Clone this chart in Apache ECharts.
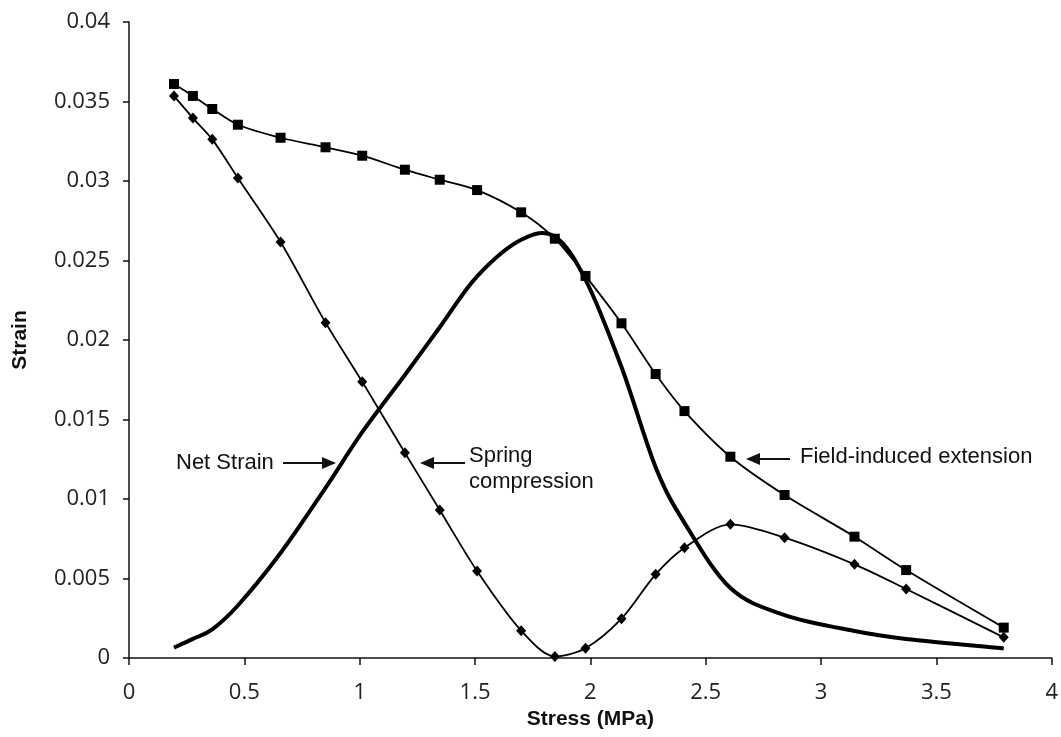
<!DOCTYPE html>
<html>
<head>
<meta charset="utf-8">
<script src="https://cdn.jsdelivr.net/npm/echarts@6/dist/echarts.min.js"></script>
<style>
  html, body { margin: 0; padding: 0; background: #fff; }
  #chart { width: 1061px; height: 737px; }
</style>
</head>
<body>
<div id="chart"></div>
<script>
// Applied stress (MPa) at each measurement
const stress = [0.195, 0.277, 0.361, 0.472, 0.657, 0.852, 1.011, 1.196, 1.347, 1.509,
                1.700, 1.846, 1.979, 2.135, 2.283, 2.408, 2.607, 2.842, 3.145, 3.369, 3.792];

// Field-induced extension (square markers)
const fieldExtension = [0.0361, 0.03535, 0.03453, 0.03354, 0.03272, 0.03212, 0.03159, 0.03071, 0.03008, 0.02943,
                        0.02803, 0.02637, 0.02403, 0.02105, 0.01786, 0.01553, 0.01266, 0.01025, 0.00763, 0.00553, 0.00191];

// Spring compression (diamond markers)
const springCompression = [0.03535, 0.03396, 0.03262, 0.03019, 0.02616, 0.02109, 0.01738, 0.01291, 0.00931, 0.00547,
                           0.00172, 0.0001, 0.00061, 0.00247, 0.00526, 0.00694, 0.00841, 0.00757, 0.00589, 0.00434, 0.0013];

// Net strain (heavy line, no markers)
const netStrain = [0.00065, 0.0012, 0.0018, 0.0033, 0.0066, 0.0107, 0.0142, 0.0178, 0.0208, 0.0240,
                   0.0263, 0.0265, 0.0238, 0.0183, 0.0120, 0.0085, 0.0044, 0.0027, 0.0017, 0.0012, 0.0006];

const xTicks = { min: 0, max: 4, interval: 0.5 };
const yTicks = { min: 0, max: 0.04, interval: 0.005 };

const pairs = (xs, ys) => xs.map((x, i) => [x, ys[i]]);

const chart = echarts.init(document.getElementById('chart'), null, { renderer: 'canvas' });

const tickFont = { fontFamily: 'Open Sans', fontSize: 22, color: '#222' };
const titleFont = { fontFamily: 'Liberation Sans', fontSize: 21, fontWeight: 'bold', color: '#111' };
const noteFont = 'Liberation Sans';

function arrow(x1, x2, y) {
  // horizontal arrow from x1 to x2 (head at x2)
  const dir = x2 > x1 ? 1 : -1;
  const head = 14, half = 6;
  return [
    { type: 'line', shape: { x1: x1, y1: y, x2: x2 - dir * head * 0.6, y2: y },
      style: { stroke: '#111', lineWidth: 2 } },
    { type: 'polygon', shape: { points: [[x2, y], [x2 - dir * head, y - half], [x2 - dir * head, y + half]] },
      style: { fill: '#111' } }
  ];
}

// Catmull-Rom spline through the pixel positions of a series (drawn once, on the first item)
function splineRenderer(xs, ys, width) {
  return function (params, api) {
    if (params.dataIndex !== 0) return null;
    const p = xs.map((x, i) => api.coord([x, ys[i]]));
    let d = 'M' + p[0][0] + ' ' + p[0][1];
    for (let i = 0; i < p.length - 1; i++) {
      const p0 = p[Math.max(i - 1, 0)], p1 = p[i], p2 = p[i + 1], p3 = p[Math.min(i + 2, p.length - 1)];
      const c1x = p1[0] + (p2[0] - p0[0]) / 6, c1y = p1[1] + (p2[1] - p0[1]) / 6;
      const c2x = p2[0] - (p3[0] - p1[0]) / 6, c2y = p2[1] - (p3[1] - p1[1]) / 6;
      d += ' C' + c1x + ' ' + c1y + ' ' + c2x + ' ' + c2y + ' ' + p2[0] + ' ' + p2[1];
    }
    return {
      type: 'path',
      shape: { pathData: d },
      style: { stroke: '#000', lineWidth: width, fill: null, lineJoin: 'round', lineCap: 'butt' }
    };
  };
}

chart.setOption({
  animation: false,
  backgroundColor: '#fff',
  grid: { left: 129, right: 8, top: 22, bottom: 79, containLabel: false },
  xAxis: {
    type: 'value',
    min: xTicks.min, max: xTicks.max, interval: xTicks.interval,
    name: 'Stress (MPa)',
    nameLocation: 'middle',
    nameGap: 48,
    nameTextStyle: titleFont,
    axisLine: { onZero: false, lineStyle: { color: '#111', width: 1.5 } },
    axisTick: { inside: false, length: 7, lineStyle: { color: '#111', width: 1.5 } },
    axisLabel: Object.assign({ margin: 24 }, tickFont),
    splitLine: { show: false }
  },
  yAxis: {
    type: 'value',
    min: yTicks.min, max: yTicks.max, interval: yTicks.interval,
    name: 'Strain',
    nameLocation: 'middle',
    nameGap: 98,
    nameTextStyle: titleFont,
    axisLine: { show: true, onZero: false, lineStyle: { color: '#111', width: 1.5 } },
    axisTick: { show: true, inside: false, length: 6, lineStyle: { color: '#111', width: 1.5 } },
    axisLabel: Object.assign({ margin: 19 }, tickFont),
    splitLine: { show: false }
  },
  series: [
    {
      name: 'Net Strain',
      type: 'custom',
      data: pairs(stress, netStrain),
      encode: { x: 0, y: 1 },
      renderItem: splineRenderer(stress, netStrain, 4),
      clip: true,
      z: 2
    },
    {
      name: 'Spring compression',
      type: 'line',
      data: pairs(stress, springCompression),
      smooth: 0.3,
      symbol: 'diamond',
      symbolSize: [10, 11],
      itemStyle: { color: '#000' },
      lineStyle: { color: '#000', width: 1.8 },
      z: 3
    },
    {
      name: 'Field-induced extension',
      type: 'line',
      data: pairs(stress, fieldExtension),
      smooth: 0.3,
      symbol: 'rect',
      symbolSize: 10,
      itemStyle: { color: '#000' },
      lineStyle: { color: '#000', width: 1.8 },
      z: 4
    }
  ],
  graphic: [
    { type: 'text', left: 176, top: 452,
      style: { text: 'Net Strain', font: '22px ' + noteFont, fill: '#111' } },
    ...arrow(283, 336, 463),
    ...arrow(465, 420, 463),
    { type: 'text', left: 469, top: 443,
      style: { text: 'Spring\ncompression', font: '22px ' + noteFont, fill: '#111', lineHeight: 26 } },
    ...arrow(790, 746, 459),
    { type: 'text', left: 800, top: 446,
      style: { text: 'Field-induced extension', font: '22px ' + noteFont, fill: '#111' } }
  ]
});
</script>
</body>
</html>
